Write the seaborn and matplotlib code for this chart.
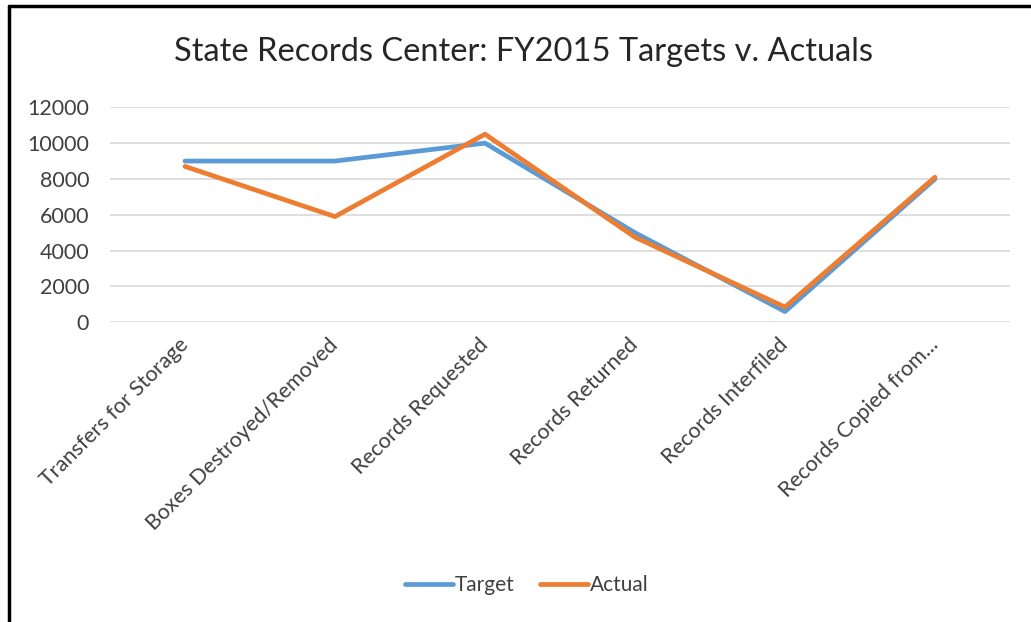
import numpy as np
import pandas as pd
import matplotlib
matplotlib.use("Agg")
import matplotlib.pyplot as plt
import seaborn as sns
from matplotlib.lines import Line2D

# chart data
categories = ["Transfers for Storage", "Boxes Destroyed/Removed", "Records Requested",
              "Records Returned", "Records Interfiled", "Records Copied from..."]
target = [9000, 9000, 10000, 5000, 600, 8000]
actual = [8700, 5900, 10500, 4750, 850, 8100]
series_names = ["Target", "Actual"]
y_ticks = [0, 2000, 4000, 6000, 8000, 10000, 12000]

df = pd.DataFrame({
    "Category": categories * 2,
    "Value": target + actual,
    "Series": [series_names[0]] * len(categories) + [series_names[1]] * len(categories),
})

sns.set_style("white")
plt.rcParams['font.family'] = ['Lato', 'DejaVu Sans']

fig = plt.figure(figsize=(10.31, 6.22), dpi=100)
ax = fig.add_axes([0.1067, 0.4818, 0.8729, 0.3457])

palette = {"Target": "#5B9BD5", "Actual": "#ED7D31"}
sns.lineplot(data=df, x="Category", y="Value", hue="Series", palette=palette,
             sort=False, linewidth=3.4, ax=ax, legend=False)

ax.set_xlim(-0.5, len(categories) - 0.5)
ax.set_ylim(0, 12000)
ax.set_yticks(y_ticks)
ax.set_yticklabels([str(v) for v in y_ticks])
ax.yaxis.grid(True, color="#D9D9D9", linewidth=1.2)
ax.set_axisbelow(True)
for s in ax.spines.values():
    s.set_visible(False)
ax.set_xlabel("")
ax.set_ylabel("")
ax.tick_params(axis="y", length=0, pad=15, labelsize=15.5, labelcolor="#404040")
ax.tick_params(axis="x", length=0, pad=14, labelsize=15.5, labelcolor="#404040")
ax.set_xticks(range(len(categories)))
ax.set_xticklabels(categories, rotation=45, ha="right", va="center", rotation_mode="anchor")

fig.text(524 / 1031, 1 - 52 / 622, "State Records Center: FY2015 Targets v. Actuals",
         ha="center", va="center", fontsize=23.5, color="#262626")

handles = [Line2D([], [], color=palette[n], linewidth=3.4) for n in series_names]
fig.legend(handles, series_names, loc="center", bbox_to_anchor=(527 / 1031, 1 - 585 / 622),
           ncol=2, frameon=False, fontsize=15, labelcolor="#404040",
           handlelength=2.3, handletextpad=0.1, columnspacing=1.2)

# outer frame of the pasted chart (left and top edges)
fig.add_artist(Line2D([9 / 1031, 9 / 1031], [0, 1 - 6 / 622], color="black", linewidth=2.5))
fig.add_artist(Line2D([9 / 1031, 1], [1 - 6 / 622, 1 - 6 / 622], color="black", linewidth=2.5))

fig.savefig("out.png", dpi=100)
